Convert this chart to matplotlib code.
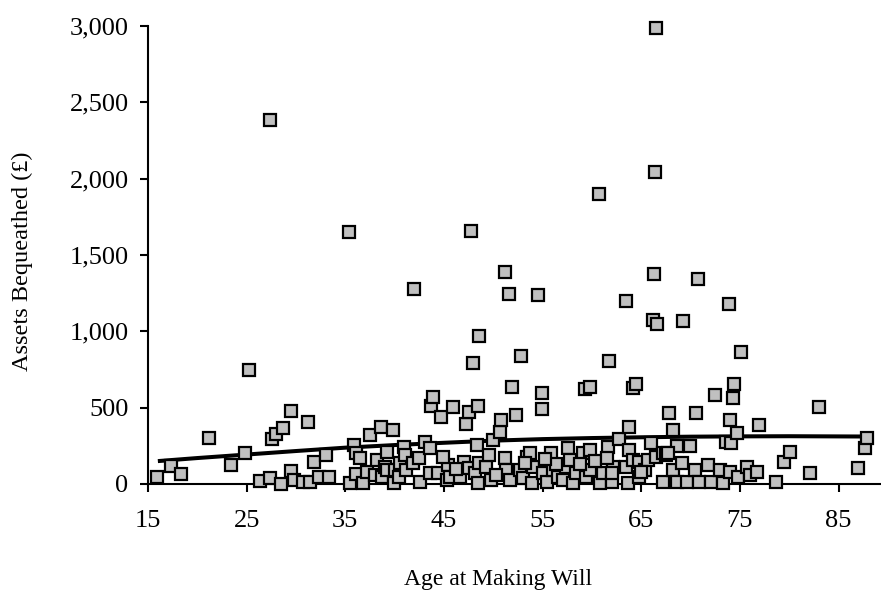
import matplotlib
matplotlib.use("Agg")
import matplotlib.pyplot as plt
from matplotlib.ticker import StrMethodFormatter, MultipleLocator

plt.rcParams['font.family'] = ['Liberation Serif', 'DejaVu Serif']

ages = [
    15.9, 17.3, 18.3, 21.2, 23.4, 24.8, 25.2, 26.4, 27.4, 27.4, 27.6, 28.0, 28.5, 28.7, 29.5, 29.5,
    29.8, 30.7, 31.2, 31.4, 31.8, 32.3, 33.0, 33.3, 35.4, 35.5, 35.9, 36.1, 36.1, 36.5, 36.8, 37.2,
    37.5, 38.0,
    38.2, 38.6, 38.7, 39.0, 39.2, 39.2, 39.8, 39.9, 40.0, 40.4, 40.5, 40.9, 41.0, 41.2, 41.9, 42.0,
    42.5, 42.6, 43.1, 43.6, 43.6, 43.7, 43.9, 44.4, 44.7, 45.3, 45.4, 45.6, 45.9, 46.6, 47.0, 47.2,
    47.5, 47.5, 47.7, 47.9, 48.1, 48.3, 48.5, 48.5, 48.6, 48.6, 49.3, 49.8, 50.0, 50.7, 50.8,
    51.2, 51.2, 51.3, 51.6, 51.7, 51.9, 52.3, 52.7, 52.8, 53.0, 53.4, 53.7, 53.9, 54.0, 54.5, 54.9,
    54.9, 55.0, 55.4, 55.9, 56.1, 56.6, 57.1, 57.4, 57.6, 58.1, 58.4, 59.1, 59.3, 59.4, 59.8, 59.8,
    59.8, 60.7, 60.8, 61.1, 61.6, 61.7, 62.0, 62.1, 62.7,
    56.4, 53.2, 46.2, 50.3, 57.8, 60.3, 44.9, 49.6, 55.2, 58.8, 61.5,
    63.5, 63.5, 63.7, 63.8, 63.8, 64.2, 64.2, 64.5, 64.8, 64.8, 65.4, 65.7, 66.0, 66.2, 66.3, 66.4,
    66.5, 66.5, 66.6, 67.2, 67.2, 67.5, 67.8, 68.2, 68.2, 68.6, 68.6, 69.1, 69.2, 69.6, 69.9, 70.4,
    70.5, 70.8, 70.9, 71.8, 72.1, 72.5, 73.0, 73.3, 73.6, 73.9, 74.0, 74.0, 74.1, 74.3, 74.4, 74.7,
    74.8, 75.1, 75.7, 76.0, 76.7, 76.9, 78.7, 79.5, 80.1, 82.1, 83.0, 87.0, 87.7, 87.9,
    62.0, 65.0, 67.7,
]
assets = [
    46, 121, 65, 304, 125, 203, 748, 17, 39, 2384, 293, 327, 0, 369, 476, 88,
    26, 12, 408, 15, 146, 48, 190, 46, 1650, 4, 258, 65, 205, 168, 4, 81,
    321, 59,
    157, 375, 48, 114, 212, 92, 356, 4, 92, 48, 135, 244, 190, 92, 135, 1275,
    168, 15, 277, 234, 70, 511, 572, 70, 437, 26, 124, 48, 502, 48, 146, 392,
    474, 103, 1655, 790, 70, 255, 511, 4, 135, 967, 114, 26, 288, 343, 419,
    1391, 168, 92, 1244, 26, 637, 452, 92, 838, 37, 179, 201, 4, 114, 1238, 594,
    494, 70, 15, 201, 92, 48, 26, 114, 234, 4, 70, 201, 622, 48, 635, 223,
    92, 1900, 4, 70, 245, 806, 15, 114, 295,
    130, 140, 95, 60, 160, 150, 180, 190, 165, 130, 170,
    1198, 114, 4, 373, 223, 627, 157, 657, 146, 48, 92, 157, 266, 1074, 1378, 2042,
    2990, 179, 1048, 201, 15, 190, 463, 351, 92, 249, 15, 135, 1070, 15, 249, 92,
    465, 1346, 15, 124, 15, 585, 92, 4, 277, 1179, 417, 81, 266, 561, 657, 332,
    48, 867, 114, 59, 81, 386, 13, 144, 207, 70, 504, 105, 234, 299,
    70, 81, 201,
]

trend_ages = [16, 20, 25, 30, 35, 40, 45, 50, 55, 60, 65, 70, 75, 80, 88]
trend_vals = [150, 170, 193, 216, 238, 255, 270, 284, 294, 301, 306, 310, 312, 313, 311]

x_ticks = [15, 25, 35, 45, 55, 65, 75, 85]

fig = plt.figure(figsize=(8.81, 6.02), dpi=100)
ax = fig.add_axes([148/881, 1-484/602, 1-148/881, (484-26)/602])

ax.plot(trend_ages, trend_vals, color='black', lw=2.9, zorder=2, solid_capstyle='butt')
ax.plot(ages, assets, linestyle='none', marker='s', ms=8.6, mfc='#c0c0c0',
        mec='black', mew=1.6, zorder=3, clip_on=False)

ax.set_xlim(15, 89.3)
ax.set_ylim(0, 3000)
ax.set_xticks(x_ticks)
ax.yaxis.set_major_locator(MultipleLocator(500))
ax.yaxis.set_major_formatter(StrMethodFormatter('{x:,.0f}'))

for s in ['top', 'right']:
    ax.spines[s].set_visible(False)
for s in ['left', 'bottom']:
    ax.spines[s].set_linewidth(1.5)
ax.tick_params(axis='both', direction='out', length=6, width=1.5)
ax.tick_params(axis='y', labelsize=19, pad=8)
ax.tick_params(axis='x', labelsize=19, pad=13)

fig.text(498/881, 1-580/602, 'Age at Making Will', ha='center', va='center', fontsize=17)
fig.text(22/881, 1-261/602, 'Assets Bequeathed (£)', ha='center', va='center',
         rotation=90, fontsize=17.5)

fig.savefig('out.png', dpi=100)
